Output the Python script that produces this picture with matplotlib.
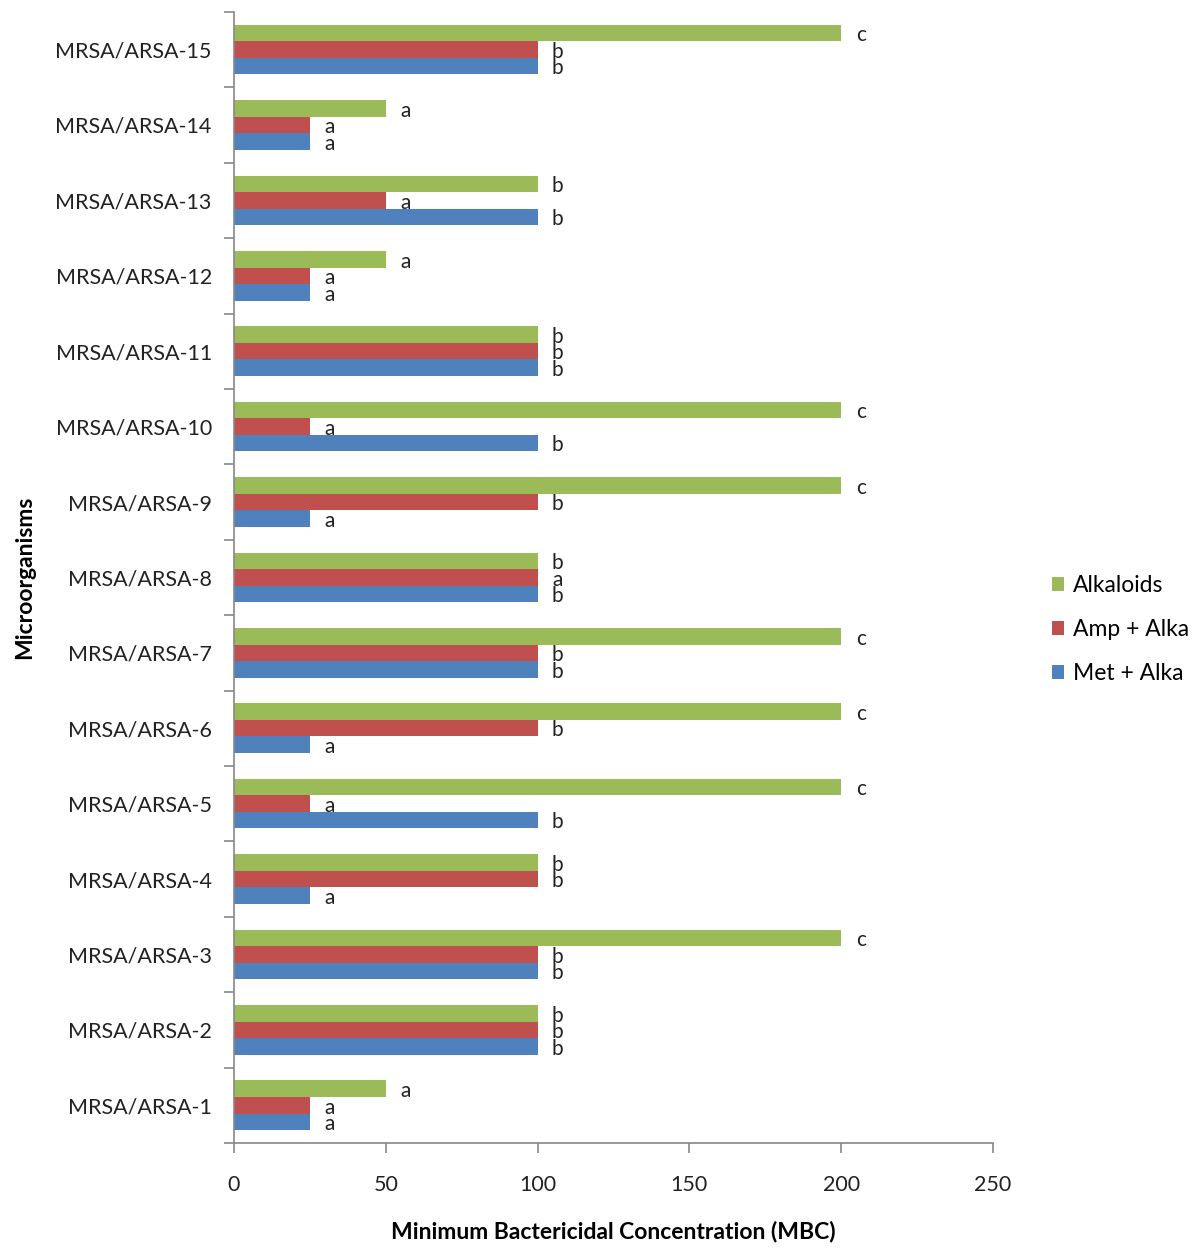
import numpy as np
import matplotlib
matplotlib.use("Agg")
import matplotlib.pyplot as plt

plt.rcParams['font.family'] = ['Lato', 'DejaVu Sans']

# data (bottom group first)
strains = ['MRSA/ARSA-%d' % i for i in range(1, 16)]
met_alka = [25, 100, 100, 25, 100, 25, 100, 100, 25, 100, 100, 25, 100, 25, 100]
amp_alka = [25, 100, 100, 100, 25, 100, 100, 100, 100, 25, 100, 25, 50, 25, 100]
alkaloids = [50, 100, 200, 100, 200, 200, 200, 100, 200, 200, 100, 50, 100, 50, 200]
met_lab = ['a', 'b', 'b', 'a', 'b', 'a', 'b', 'b', 'a', 'b', 'b', 'a', 'b', 'a', 'b']
amp_lab = ['a', 'b', 'b', 'b', 'a', 'b', 'b', 'a', 'b', 'a', 'b', 'a', 'a', 'a', 'b']
alk_lab = ['a', 'b', 'c', 'b', 'c', 'c', 'c', 'b', 'c', 'c', 'b', 'a', 'b', 'a', 'c']

series = [('Met + Alka', met_alka, met_lab, '#4F81BD'),
          ('Amp + Alka', amp_alka, amp_lab, '#C0504D'),
          ('Alkaloids', alkaloids, alk_lab, '#9BBB59')]

fig = plt.figure(figsize=(12, 12.52), dpi=100)
ax = fig.add_axes([0.195, 0.0871, 0.6325, 0.9034])

y = np.arange(len(strains))
h = 0.219
handles = []
for k, (name, vals, labs, col) in enumerate(series):
    pos = y + (k - 1) * h
    b = ax.barh(pos, vals, height=h, color=col, label=name)
    handles.append(b)
    for yy, v, t in zip(pos, vals, labs):
        ax.text(v + 6.5, yy - 0.03, t, ha='center', va='center', fontsize=15, color='#222222')

ax.set_xlim(0, 250)
ax.set_ylim(-0.5, len(strains) - 0.5)
ax.set_xticks([0, 50, 100, 150, 200, 250])
ax.set_yticks(y)
ax.set_yticklabels(strains)
ax.set_yticks(np.arange(-0.5, len(strains)), minor=True)

for s in ['top', 'right']:
    ax.spines[s].set_visible(False)
for s in ['left', 'bottom']:
    ax.spines[s].set_color('#888888')
    ax.spines[s].set_linewidth(1.2)

ax.tick_params(axis='y', which='major', length=0, pad=16, labelsize=15.5, labelcolor='#222222')
ax.tick_params(axis='y', which='minor', length=7, color='#888888', width=1.2)
ax.tick_params(axis='x', length=7, color='#888888', width=1.2, pad=16, labelsize=15.5, labelcolor='#222222')

ax.set_xlabel('Minimum Bactericidal Concentration (MBC)', fontsize=16.5, fontweight='bold')
ax.set_ylabel('Microorganisms', fontsize=16.5, fontweight='bold')
ax.yaxis.set_label_coords(-0.262, 0.5)
ax.xaxis.set_label_coords(0.5, -0.069)

ax.legend(handles[::-1], [s[0] for s in series][::-1], loc='center left',
          bbox_to_anchor=(1.05, 0.4536), frameon=False, fontsize=16.5,
          handlelength=0.55, handleheight=0.55, labelspacing=1.0, handletextpad=0.4)

fig.savefig('out.png')
